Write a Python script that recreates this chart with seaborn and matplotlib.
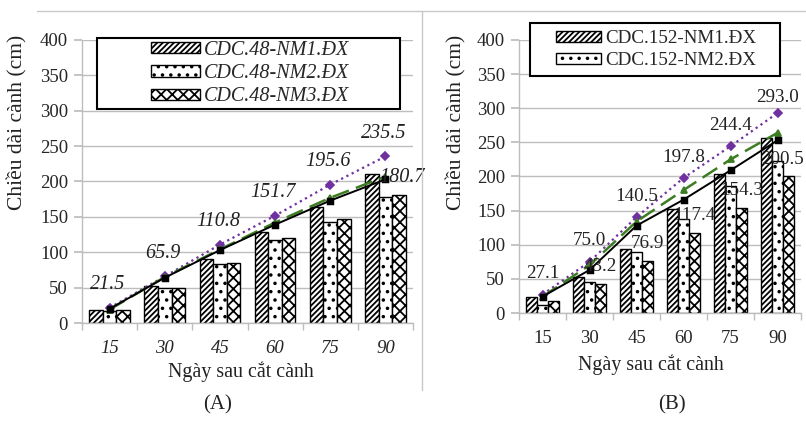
import numpy as np
import pandas as pd
import matplotlib
matplotlib.use("Agg")
import matplotlib.pyplot as plt
import seaborn as sns
from matplotlib.patches import Patch, Rectangle
from matplotlib.lines import Line2D

# ---------------- data ----------------
days = ["15", "30", "45", "60", "75", "90"]

a_series = ["CDC.48-NM1.ĐX", "CDC.48-NM2.ĐX", "CDC.48-NM3.ĐX"]
a_nm1 = [19, 52, 90, 128, 164, 211]
a_nm2 = [17, 50, 83, 117, 143, 178]
a_nm3 = [18, 50, 85, 120, 147, 180.7]
a_solid = [20, 64, 103, 139, 173, 203]
a_dash = [19, 65, 104, 142, 177, 207]
a_dot = [21.5, 65.9, 110.8, 151.7, 195.6, 235.5]

b_series = ["CDC.152-NM1.ĐX", "CDC.152-NM2.ĐX", "CDC.152-NM3.ĐX"]
b_legend = ["CDC.152-NM1.ĐX", "CDC.152-NM2.ĐX"]
b_nm1 = [24, 53, 94, 152, 204, 256]
b_nm2 = [12, 46, 89, 138, 186, 222]
b_nm3 = [18, 43.2, 76.9, 117.4, 154.3, 200.5]
b_solid = [24, 63, 128, 166, 209, 253]
b_dash = [24, 70, 134, 180, 225, 264]
b_dot = [27.1, 75.0, 140.5, 197.8, 244.4, 293.0]
b_bar_labels = ["", "43.2", "76.9", "117.4", "154.3", "200.5"]

y_ticks = [0, 50, 100, 150, 200, 250, 300, 350, 400]

# ---------------- style ----------------
sns.set_theme(style="white")
plt.rcParams["font.family"] = ["Liberation Serif", "DejaVu Serif"]
plt.rcParams["hatch.linewidth"] = 1.3

W, H = 806, 423
fig = plt.figure(figsize=(W / 100, H / 100), dpi=100)

def fx(px):
    return px / W

def fy(py):
    return 1 - py / H

GRID = "#bdbdbd"
PURPLE = "#7030a0"
GREEN = "#3c7d22"
hatches = ["//////", "..", "xxx"]


def make_panel(rect, series, v1, v2, v3, solid, dash, dot, width, italic):
    ax = fig.add_axes(rect)
    df = pd.DataFrame({
        "day": days * 3,
        "series": [series[0]] * 6 + [series[1]] * 6 + [series[2]] * 6,
        "value": list(v1) + list(v2) + list(v3),
    })
    sns.barplot(data=df, x="day", y="value", hue="series", order=days,
                hue_order=series, palette={s: "white" for s in series},
                width=width, gap=0, edgecolor="black", linewidth=1.0,
                legend=False, ax=ax, zorder=2)
    for cont, h in zip(ax.containers, hatches):
        for p in cont:
            p.set_hatch(h)
            p.set_facecolor("white")
            p.set_edgecolor("black")
    sns.pointplot(x=days, y=dot, order=days, color=PURPLE, markers="D",
                  linestyles=":", errorbar=None, markersize=4.5,
                  linewidth=1.6, ax=ax, zorder=5)
    sns.pointplot(x=days, y=dash, order=days, color=GREEN, markers="^",
                  linestyles="--", errorbar=None, markersize=5,
                  linewidth=1.8, ax=ax, zorder=6)
    sns.pointplot(x=days, y=solid, order=days, color="black", markers="s",
                  linestyles="-", errorbar=None, markersize=4.5,
                  linewidth=1.4, ax=ax, zorder=7)
    for ln in ax.lines:
        if ln.get_linestyle() == "--":
            ln.set_dashes([7, 3])
    ax.set_ylim(0, 400)
    ax.set_xlim(-0.5, 5.5)
    ax.set_yticks(y_ticks)
    ax.set_xlabel("")
    ax.set_ylabel("")
    ax.grid(axis="y", color=GRID, linewidth=1.0, zorder=0)
    ax.set_axisbelow(True)
    for s in ["top", "right"]:
        ax.spines[s].set_visible(False)
    ax.spines["left"].set_color(GRID)
    ax.spines["bottom"].set_color(GRID)
    ax.spines["left"].set_linewidth(1.0)
    ax.spines["bottom"].set_linewidth(1.0)
    ax.tick_params(axis="y", length=6, color=GRID, labelsize=13.5, pad=4,
                   left=True)
    ax.set_xticks(np.arange(-0.5, 6, 1.0), minor=True)
    ax.tick_params(axis="x", which="major", length=0, labelsize=13.5, pad=12)
    ax.tick_params(axis="x", which="minor", length=5, color=GRID,
                   bottom=True, direction="out")
    if italic:
        for t in ax.get_xticklabels():
            t.set_fontstyle("italic")
    return ax


axA = make_panel([fx(82), fy(323), fx(331), (323 - 40) / H], a_series,
                 a_nm1, a_nm2, a_nm3, a_solid, a_dash, a_dot, 0.74, True)
axB = make_panel([fx(519), fy(313), fx(282), (313 - 40) / H], b_series,
                 b_nm1, b_nm2, b_nm3, b_solid, b_dash, b_dot, 0.70, False)

# ---------------- data labels ----------------
for i, v in enumerate(a_dot):
    axA.annotate(f"{v:.1f}", (i, v), xytext=(-2, 23), textcoords="offset pixels",
                 ha="center", va="center", fontsize=14.5, style="italic",
                 color="#222222", zorder=8)
axA.annotate(f"{a_nm3[5]:.1f}", (5 + 0.25, a_nm3[5]), xytext=(3, 18),
             textcoords="offset pixels", ha="center", va="center",
             fontsize=14.5, style="italic", color="#222222", zorder=8)

for i, v in enumerate(b_dot):
    dy = 21 if i < 5 else 16
    axB.annotate(f"{v:.1f}", (i, v), xytext=(0, dy), textcoords="offset pixels",
                 ha="center", va="center", fontsize=13.7, color="#222222",
                 zorder=8)
for i, lab in enumerate(b_bar_labels):
    if lab:
        dx = 0 if i < 5 else -6
        axB.annotate(lab, (i + 0.23, b_nm3[i]), xytext=(dx, 17),
                     textcoords="offset pixels", ha="center", va="center",
                     fontsize=13.7, color="#222222", zorder=8)

# ---------------- legends ----------------
def handles(labels):
    return [Patch(facecolor="white", edgecolor="black", hatch=h, label=l,
                  linewidth=1.0) for h, l in zip(hatches, labels)]

fig.add_artist(Rectangle((fx(97), fy(109)), fx(400) - fx(97), fy(38) - fy(109),
                         transform=fig.transFigure, facecolor="white",
                         edgecolor="black", linewidth=1.5, zorder=9))
legA = fig.legend(handles=handles(a_series), loc="center",
                  bbox_to_anchor=(fx(250), fy(73.5)), frameon=False,
                  prop={"size": 14.5, "style": "italic"}, handlelength=2.4,
                  handleheight=0.5, labelspacing=0.22, handletextpad=0.2,
                  borderpad=0.1)
legA.set_zorder(10)

fig.add_artist(Rectangle((fx(530), fy(76)), fx(780) - fx(530), fy(23) - fy(76),
                         transform=fig.transFigure, facecolor="white",
                         edgecolor="black", linewidth=1.5, zorder=9))
legB = fig.legend(handles=handles(b_legend), loc="center",
                  bbox_to_anchor=(fx(656), fy(49.5)), frameon=False,
                  prop={"size": 13.7}, handlelength=2.4,
                  handleheight=0.5, labelspacing=0.25, handletextpad=0.2,
                  borderpad=0.1)
legB.set_zorder(10)

# ---------------- axis titles ----------------
fig.text(fx(17), fy(122), "Chiều dài cành (cm)", rotation=90, ha="center",
         va="center", fontsize=15.5, color="#222222")
fig.text(fx(456), fy(122), "Chiều dài cành (cm)", rotation=90, ha="center",
         va="center", fontsize=15.5, color="#222222")
fig.text(fx(241), fy(372), "Ngày sau cắt cành", ha="center", va="center",
         fontsize=14.4, color="#222222")
fig.text(fx(651), fy(365), "Ngày sau cắt cành", ha="center", va="center",
         fontsize=14.4, color="#222222")
fig.text(fx(218), fy(405), "(A)", ha="center", va="center", fontsize=15,
         color="#222222")
fig.text(fx(672), fy(405), "(B)", ha="center", va="center", fontsize=15,
         color="#222222")

# ---------------- frame lines ----------------
fig.add_artist(Line2D([fx(37), fx(806)], [fy(11), fy(11)],
                      transform=fig.transFigure, color="#c8c8c8", linewidth=1))
fig.add_artist(Line2D([fx(421.5), fx(421.5)], [fy(11), fy(390)],
                      transform=fig.transFigure, color="#c8c8c8", linewidth=1))

fig.savefig("out.png", dpi=100)
